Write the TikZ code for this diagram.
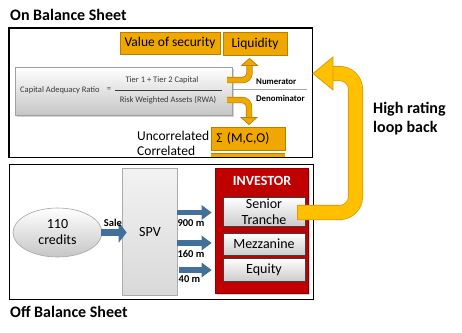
\documentclass[tikz,border=0pt]{standalone}
\usepackage{fontspec}
\setmainfont{Carlito}
\usetikzlibrary{arrows.meta,shadows,calc,shapes.geometric}
\definecolor{gold}{HTML}{F0A800}
\definecolor{goldb}{HTML}{B88000}
\definecolor{loopc}{HTML}{FFC000}
\definecolor{loopb}{HTML}{E09A00}
\definecolor{steel}{HTML}{41709A}
\definecolor{invc}{HTML}{C00000}
\definecolor{invb}{HTML}{8C0000}
\definecolor{cartext}{HTML}{3A3A3A}
\begin{document}
\begin{tikzpicture}[x=1pt,y=-1pt,
  frame/.style={draw=black,line width=0.9pt},
  title/.style={font=\fontsize{16}{19}\selectfont\bfseries,inner sep=0,anchor=base west},
  goldbox/.style={draw=goldb,fill=gold,line width=0.8pt,inner sep=0,font=\fontsize{13.5}{16}\selectfont},
  greybox/.style={draw=gray!75,top color=white,bottom color=gray!45,line width=0.6pt,inner sep=0},
  tranche/.style={draw=gray!50!black,top color=white,bottom color=gray!40,line width=0.6pt,inner sep=0,
     minimum width=82pt,align=center,font=\fontsize{14}{16}\selectfont},
  cartxt/.style={text=cartext,inner sep=0,font=\fontsize{8.5}{10}\selectfont},
  side/.style={inner sep=0,anchor=west,font=\fontsize{8.8}{10}\selectfont\bfseries},
  amount/.style={inner sep=0,font=\fontsize{10.5}{12}\selectfont\bfseries},
  plain/.style={inner sep=0,font=\fontsize{13.5}{16}\selectfont},
  bluearrow/.style={draw=steel,line width=5.5pt,-{Triangle[length=10pt,width=14pt]}},
  cararrow/.style={draw=goldb,double=gold,double distance=5pt,line width=0.7pt,rounded corners=7pt},
  carhead/.style={draw=goldb,fill=gold,line width=0.7pt,line join=miter},
  loopshaft/.style={draw=loopb,double=loopc,double distance=13.5pt,line width=0.8pt,rounded corners=16pt},
  loophead/.style={draw=loopb,fill=loopc,line width=0.8pt}
]
\useasboundingbox (0,0) rectangle (462,332);

% ---------- titles ----------
\node[title] (ontitle) at (10,20.5) {On Balance Sheet};
\node[title] (offtitle) at (10,317.5) {Off Balance Sheet};

% ---------- top frame ----------
\node[frame,minimum width=303pt,minimum height=129pt,inner sep=0] (topframe) at (160.5,92.5) {};

\node[goldbox,minimum width=100pt,minimum height=22pt] (value) at (170,43) {Value of security};
\node[goldbox,minimum width=64pt,minimum height=23pt] (liq) at (255,43.5) {Liquidity};

% separator line
\coordinate (sepa) at (232,89);
\coordinate (sepb) at (307,89);
\draw[gray!70,line width=0.8pt] (sepa) -- (sepb);

% CAR box
\node[greybox,minimum width=217pt,minimum height=48pt,drop shadow={opacity=0.35,shadow xshift=1.5pt,shadow yshift=-1.5pt}] (car) at (123.5,91) {};
\node[cartxt,anchor=west] (cartitle) at (20,90) {Capital Adequacy Ratio};
\node[cartxt] (eq) at (109,90) {=};
\node[cartxt] (tier) at (162,80) {Tier 1 + Tier 2 Capital};
\node[cartxt] (rwa) at (168,100) {Risk Weighted Assets (RWA)};
\coordinate (fraca) at (115,90);
\coordinate (fracb) at (222,90);
\draw[cartext,line width=0.6pt] (fraca) -- (fracb);

\node[side] (num) at (256,82) {Numerator};
\node[side] (den) at (256,98) {Denominator};

% sigma box
\node[goldbox,minimum width=74pt,minimum height=23pt,text width=68pt,align=left] (sigma) at (248,138.5) {\,Σ (M,C,O)};
\coordinate (corrbl) at (211,153);
\coordinate (corrtr) at (285,157);
\fill[gold] (corrbl) rectangle (corrtr);
\draw[goldb,line width=0.8pt] (corrbl) -- (corrbl -| corrtr);

\node[plain,anchor=west] (uncorr) at (137,136) {Uncorrelated};
\node[plain,anchor=west] (corr) at (137,150.5) {Correlated};

% orange arrows from CAR
\coordinate (upstart) at (227,80);
\coordinate (upbend) at (249.5,80);
\coordinate (upend) at (249.5,65.5);
\draw[cararrow] (upstart) -- (upbend) -- (upend);
\draw[carhead] ($(upend)+(-8,0)$) -- ($(upend)+(8,0)$) -- ($(liq.south)+(-5.5,3)$) -- cycle;

\coordinate (dnstart) at (227,100);
\coordinate (dnbend) at (249,100);
\coordinate (dnend) at (249,117.5);
\draw[cararrow] (dnstart) -- (dnbend) -- (dnend);
\draw[carhead] ($(dnend)+(-8,0)$) -- ($(dnend)+(8,0)$) -- ($(sigma.north)+(1,-2)$) -- cycle;

% redraw top frame line on top
\draw[frame] (topframe.south west) rectangle (topframe.north east);

% ---------- bottom frame ----------
\node[frame,minimum width=304pt,minimum height=135pt,inner sep=0] (botframe) at (161,231.5) {};

\node[ellipse,draw=gray!70,top color=white,bottom color=gray!45,line width=0.6pt,
      minimum width=89pt,minimum height=49pt,inner sep=0,align=center,
      font=\fontsize{14}{16}\selectfont] (credits) at (57.5,232.5) {110\\credits};

\node[draw=gray!65,top color=gray!10,bottom color=gray!30,line width=0.6pt,
      minimum width=55pt,minimum height=127pt,inner sep=0,
      font=\fontsize{14}{16}\selectfont] (spv) at (149.5,231.5) {};
\node[inner sep=0,font=\fontsize{14}{16}\selectfont] (spvlabel) at (150,232) {SPV};

\node[draw=invb,fill=invc,line width=0.6pt,minimum width=93pt,minimum height=125pt,inner sep=0,
      drop shadow={opacity=0.35,shadow xshift=1.5pt,shadow yshift=-1.5pt}] (investor) at (261.5,230.5) {};
\node[inner sep=0,text=white,font=\fontsize{14}{16}\selectfont\bfseries] (invlabel) at (262,181) {INVESTOR};

\node[tranche,minimum height=29pt] (senior) at (264,211.5) {Senior\\Tranche};
\node[tranche,minimum height=22pt] (mezz) at (264,244) {Mezzanine};
\node[tranche,minimum height=23pt] (equity) at (264,269.5) {Equity};

% blue arrows
\coordinate (salestart) at (101,232.5);
\coordinate (saleend) at ($(spv.west |- salestart)+(5,0)$);
\draw[draw=steel,line width=7pt,-{Triangle[length=8pt,width=20pt]}] (salestart) -- (saleend);
\node[amount] (sale) at (113,222.5) {Sale};

\coordinate (a1s) at (177,212.5);
\coordinate (a2s) at (177,243);
\coordinate (a3s) at (179,270);
\draw[bluearrow] (a1s) -- ($(investor.west |- a1s)+(-3,0)$);
\draw[bluearrow] (a2s) -- ($(investor.west |- a2s)+(-3,0)$);
\draw[bluearrow] (a3s) -- ($(investor.west |- a3s)+(-3,0)$);
\node[amount] (m900) at (191,223.5) {900 m};
\node[amount] (m160) at (191,253.5) {160 m};
\node[amount] (m40) at (189.5,279) {40 m};

% loop back arrow
\coordinate (loopstart) at (297,212.5);
\coordinate (loopc1) at (355.5,212.5);
\coordinate (loopc2) at (355.5,73.5);
\coordinate (loopend) at (333,73.5);
\coordinate (looptip) at (313,73.5);
\draw[loopshaft] (loopstart) -- (loopc1) -- (loopc2) -- (loopend);
\draw[loopb,line width=0.8pt] ($(loopstart)+(0,-7.5)$) -- ($(loopstart)+(0,7.5)$);
\draw[loophead] ($(loopend)+(0,-16.5)$) -- ($(loopend)+(0,16.5)$) -- (looptip) -- cycle;

\node[inner sep=0,anchor=base west,align=left,font=\fontsize{16}{19}\selectfont\bfseries] (hr) at (373,132) {High rating\\loop back};
\end{tikzpicture}
\end{document}
